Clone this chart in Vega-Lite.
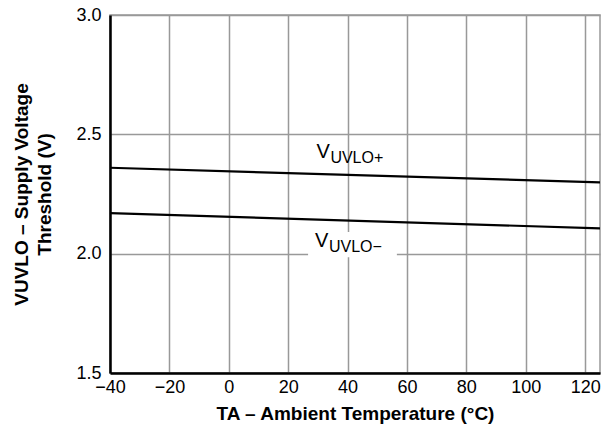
{
  "$schema": "https://vega.github.io/schema/vega-lite/v6.json",
  "width": 490,
  "height": 358,
  "autosize": "none",
  "padding": {"left": 110, "top": 15, "right": 7, "bottom": 70},
  "background": "white",
  "config": {
    "font": "Liberation Sans",
    "view": {"stroke": "#999999", "strokeWidth": 1.5},
    "axis": {
      "grid": true,
      "gridColor": "#999999",
      "gridWidth": 1.5,
      "gridOpacity": 1,
      "domainColor": "black",
      "domainWidth": 2.5,
      "ticks": false,
      "labelFlush": false,
      "labelFont": "Liberation Sans",
      "labelFontSize": 18,
      "labelColor": "black",
      "titleFont": "Liberation Sans",
      "titleFontSize": 19,
      "titleFontWeight": "bold",
      "titleColor": "black"
    }
  },
  "datasets": {
    "curves": [
      {"temp": -40, "v": 2.36, "series": "UVLO+"},
      {"temp": 125, "v": 2.299, "series": "UVLO+"},
      {"temp": -40, "v": 2.17, "series": "UVLO-"},
      {"temp": 125, "v": 2.106, "series": "UVLO-"}
    ],
    "labels": [
      {"temp": 29.5, "v": 2.401, "main": "V", "sub": "UVLO+"},
      {"temp": 29, "v": 2.028, "main": "V", "sub": "UVLO−"}
    ],
    "mask": [
      {"t1": 26.7, "t2": 56.6, "v1": 1.985, "v2": 2.091}
    ]
  },
  "layer": [
    {
      "data": {"name": "mask"},
      "mark": {"type": "rect", "fill": "white"},
      "encoding": {
        "x": {
          "field": "t1",
          "type": "quantitative",
          "scale": {"domain": [-40, 125], "nice": false},
          "axis": {
            "values": [-40, -20, 0, 20, 40, 60, 80, 100, 120],
            "labelPadding": 5,
            "title": "TA – Ambient Temperature (°C)",
            "titlePadding": 8
          }
        },
        "x2": {"field": "t2"},
        "y": {
          "field": "v1",
          "type": "quantitative",
          "scale": {"domain": [1.5, 3.0], "nice": false},
          "axis": {
            "values": [1.5, 2.0, 2.5, 3.0],
            "format": ".1f",
            "labelPadding": 9,
            "title": ["VUVLO – Supply Voltage", "Threshold (V)"],
            "titleLineHeight": 23,
            "titlePadding": 21
          }
        },
        "y2": {"field": "v2"}
      }
    },
    {
      "data": {"name": "curves"},
      "mark": {"type": "line", "color": "black", "strokeWidth": 2.2},
      "encoding": {
        "x": {"field": "temp", "type": "quantitative"},
        "y": {"field": "v", "type": "quantitative"},
        "detail": {"field": "series"}
      }
    },
    {
      "data": {"name": "labels"},
      "mark": {"type": "text", "align": "left", "baseline": "alphabetic", "fontSize": 20, "color": "black"},
      "encoding": {
        "x": {"field": "temp", "type": "quantitative"},
        "y": {"field": "v", "type": "quantitative"},
        "text": {"field": "main"}
      }
    },
    {
      "data": {"name": "labels"},
      "mark": {"type": "text", "align": "left", "baseline": "alphabetic", "fontSize": 16, "dx": 14, "dy": 5, "color": "black"},
      "encoding": {
        "x": {"field": "temp", "type": "quantitative"},
        "y": {"field": "v", "type": "quantitative"},
        "text": {"field": "sub"}
      }
    }
  ]
}
